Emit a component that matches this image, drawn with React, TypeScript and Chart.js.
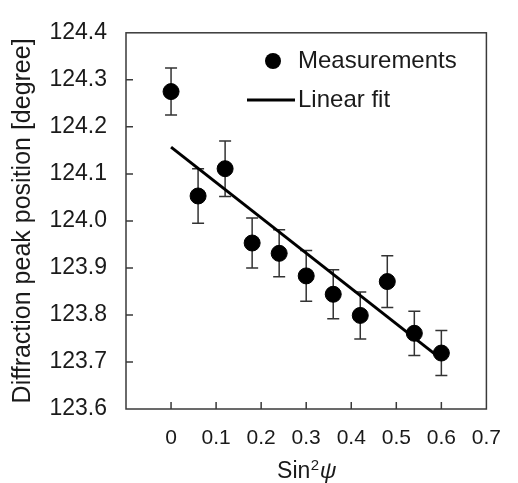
import React, { useEffect, useRef } from "react";
import { Chart, registerables } from "chart.js";

Chart.register(...registerables);

const sin2psi = [0, 0.06, 0.12, 0.18, 0.24, 0.3, 0.36, 0.42, 0.48, 0.54, 0.6];
const peakPos = [124.275, 124.053, 124.111, 123.953, 123.931, 123.883, 123.844, 123.799, 123.871, 123.761, 123.719];
const peakErr = [0.05, 0.058, 0.059, 0.053, 0.05, 0.054, 0.052, 0.05, 0.055, 0.047, 0.048];
const fitX = [0, 0.6];
const fitY = [124.157, 123.706];
const legendLabels = ["Measurements", "Linear fit"];
const yTitle = "Diffraction peak position [degree]";

const FONT = "'Liberation Sans', Arial, sans-serif";
const INK = "#000000";
const FRAME = "#3a3a3a";

const framePlugin = {
  id: "framePlugin",
  beforeDatasetsDraw(chart: any) {
    const { ctx, scales } = chart;
    ctx.save();
    const meta = chart.getDatasetMeta(0);
    const ys = scales.y;
    ctx.strokeStyle = "#333333";
    ctx.lineWidth = 1.5;
    meta.data.forEach((pt: any, i: number) => {
      const x = pt.x;
      const y1 = ys.getPixelForValue(peakPos[i] + peakErr[i]);
      const y2 = ys.getPixelForValue(peakPos[i] - peakErr[i]);
      ctx.beginPath();
      ctx.moveTo(x, y1);
      ctx.lineTo(x, y2);
      ctx.moveTo(x - 6, y1);
      ctx.lineTo(x + 6, y1);
      ctx.moveTo(x - 6, y2);
      ctx.lineTo(x + 6, y2);
      ctx.stroke();
    });
    ctx.restore();
  },
  afterDraw(chart: any) {
    const { ctx, chartArea: a, scales } = chart;
    ctx.save();
    ctx.strokeStyle = FRAME;
    ctx.lineWidth = 1.5;
    ctx.strokeRect(a.left, a.top, a.right - a.left, a.bottom - a.top);
    ctx.beginPath();
    scales.y.ticks.forEach((t: any) => {
      const y = scales.y.getPixelForValue(t.value);
      if (y <= a.top + 1 || y >= a.bottom - 1) return;
      ctx.moveTo(a.left, y);
      ctx.lineTo(a.left + 7, y);
    });
    scales.x.ticks.forEach((t: any) => {
      const x = scales.x.getPixelForValue(t.value);
      if (x <= a.left + 1 || x >= a.right - 1) return;
      ctx.moveTo(x, a.bottom);
      ctx.lineTo(x, a.bottom - 7);
    });
    ctx.stroke();

    // legend
    ctx.fillStyle = INK;
    ctx.beginPath();
    ctx.arc(273, 61, 8, 0, Math.PI * 2);
    ctx.fill();
    ctx.strokeStyle = INK;
    ctx.lineWidth = 3;
    ctx.beginPath();
    ctx.moveTo(247, 100);
    ctx.lineTo(295, 100);
    ctx.stroke();
    ctx.font = `24px ${FONT}`;
    ctx.fillStyle = "#1a1a1a";
    ctx.textAlign = "left";
    ctx.textBaseline = "middle";
    ctx.fillText(legendLabels[0], 298, 61);
    ctx.fillText(legendLabels[1], 298, 100);

    // x title: Sin²ψ
    const cx = (a.left + a.right) / 2;
    const base = 478;
    ctx.textBaseline = "alphabetic";
    const f1 = `23px ${FONT}`;
    const f2 = `15px ${FONT}`;
    const f3 = `italic 23px ${FONT}`;
    ctx.font = f1;
    const w1 = ctx.measureText("Sin").width;
    ctx.font = f2;
    const w2 = ctx.measureText("2").width;
    ctx.font = f3;
    const w3 = ctx.measureText("ψ").width;
    const x0 = cx - (w1 + w2 + w3) / 2;
    ctx.font = f1;
    ctx.fillText("Sin", x0, base);
    ctx.font = f2;
    ctx.fillText("2", x0 + w1 + 0.5, base - 8);
    ctx.font = f3;
    ctx.fillText("ψ", x0 + w1 + w2 + 1, base);
    ctx.restore();
  },
};

export default function App() {
  const ref = useRef<HTMLCanvasElement | null>(null);
  useEffect(() => {
    if (!ref.current) return;
    const chart = new Chart(ref.current, {
      type: "scatter",
      data: {
        datasets: [
          {
            label: legendLabels[0],
            data: sin2psi.map((x, i) => ({ x, y: peakPos[i] })),
            backgroundColor: INK,
            borderColor: INK,
            pointRadius: 8,
            pointHoverRadius: 8,
            order: 1,
          },
          {
            type: "line",
            label: legendLabels[1],
            data: fitX.map((x, i) => ({ x, y: fitY[i] })),
            borderColor: INK,
            borderWidth: 3,
            pointRadius: 0,
            showLine: true,
            fill: false,
            order: 2,
          } as any,
        ],
      },
      options: {
        animation: false,
        responsive: false,
        maintainAspectRatio: false,
        layout: { padding: { left: 0, top: 25, right: 18, bottom: 0 } },
        plugins: {
          legend: { display: false },
          tooltip: { enabled: false },
        },
        scales: {
          x: {
            type: "linear",
            min: -0.1,
            max: 0.7,
            afterFit: (s: any) => {
              s.height = 74;
            },
            ticks: {
              stepSize: 0.1,
              padding: 17,
              color: "#1a1a1a",
              font: { family: FONT, size: 21 },
              callback: (v: any) => {
                const n = Number(v);
                if (n < -0.05) return "";
                return String(Math.round(n * 10) / 10);
              },
            },
            grid: { display: false, drawTicks: false },
            border: { display: false },
          },
          y: {
            type: "linear",
            min: 123.6,
            max: 124.4,
            afterFit: (s: any) => {
              s.width = 126;
            },
            ticks: {
              stepSize: 0.1,
              padding: 19,
              color: "#1a1a1a",
              font: { family: FONT, size: 23 },
              callback: (v: any) => Number(v).toFixed(1),
            },
            grid: { display: false, drawTicks: false },
            border: { display: false },
            title: {
              display: true,
              text: yTitle,
              color: "#1a1a1a",
              font: { family: FONT, size: 25 },
              padding: { top: 8, bottom: 0 },
            },
          },
        },
      },
      plugins: [framePlugin],
    });
    return () => chart.destroy();
  }, []);
  return (
    <div style={{ position: "fixed", left: 0, top: 0, width: 518, height: 483, background: "#fff" }}>
      <canvas ref={ref} width={518} height={483} style={{ width: 518, height: 483, display: "block" }} />
    </div>
  );
}
